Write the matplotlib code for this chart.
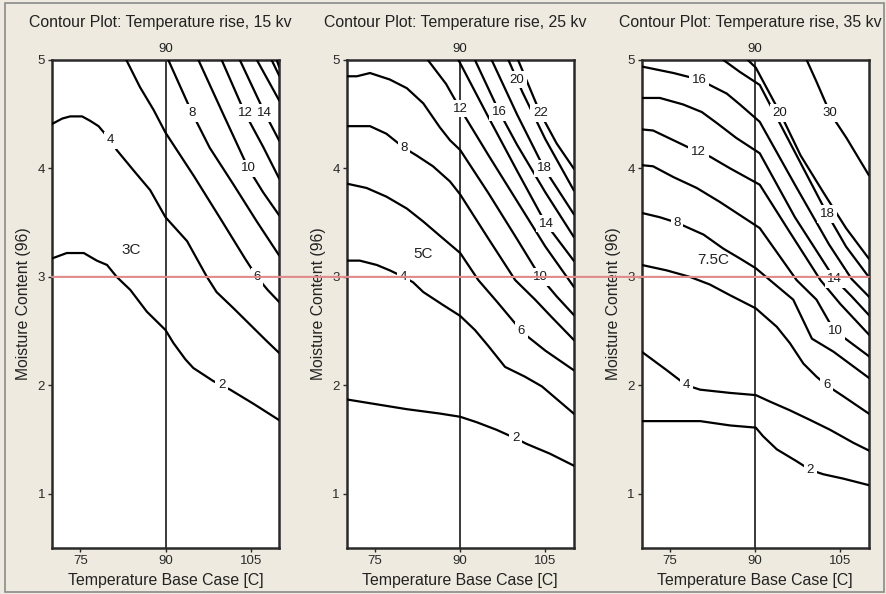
import matplotlib.pyplot as plt
import numpy as np
from matplotlib.patches import ConnectionPatch, Rectangle

plt.rcParams['font.family'] = ['Liberation Sans', 'DejaVu Sans']

# ---- data (x = base case temperature, y = moisture) ----
titles = ["Contour Plot: Temperature rise, 15 kv",
          "Contour Plot: Temperature rise, 25 kv",
          "Contour Plot: Temperature rise, 35 kv"]
tags = ["3C", "5C", "7.5C"]
tag_x = [84.0, 83.4, 82.6]
tag_y = [3.25, 3.21, 3.16]

x_ticks = [75, 90, 105]
y_ticks = [1, 2, 3, 4, 5]
ref_temp = 90
ref_moisture = 3

# 15 kv
levels_15 = [2, 4, 6, 8, 10, 12, 14, 16, 18, 20]
lines_15_x = [
    [70, 72.6, 75.6, 77.9, 79.7, 81.4, 83.8, 86.7, 90, 91.4, 93.5, 94.9, 98.4, 101.4, 105.5, 110],
    [70, 71.8, 73.2, 75.3, 76.7, 78.2, 80.3, 81.4, 84.4, 87.3, 90, 93.8, 97.3, 99, 102, 104.9, 107.8, 110],
    [83.1, 85.5, 87.9, 90, 95, 100, 104, 106.1, 108, 110],
    [90.5, 94.7, 97.8, 102, 106.1, 110],
    [95.8, 100, 104.6, 107.2, 110],
    [99.9, 104.0, 107.2, 110],
    [103.1, 107.5, 110],
    [106.1, 108, 110],
    [108.7, 110],
    [109.6, 110],
]
lines_15_y = [
    [3.17, 3.22, 3.22, 3.15, 3.11, 3.0, 2.88, 2.68, 2.51, 2.39, 2.24, 2.16, 2.04, 1.96, 1.83, 1.68],
    [4.41, 4.46, 4.48, 4.48, 4.44, 4.39, 4.26, 4.17, 3.98, 3.8, 3.55, 3.33, 3.0, 2.86, 2.71, 2.56, 2.41, 2.30],
    [5.0, 4.75, 4.54, 4.33, 3.93, 3.51, 3.17, 3.0, 2.88, 2.77],
    [5.0, 4.51, 4.19, 3.85, 3.51, 3.20],
    [5.0, 4.52, 4.0, 3.78, 3.57],
    [5.0, 4.51, 4.2, 3.91],
    [5.0, 4.51, 4.26],
    [5.0, 4.82, 4.63],
    [5.0, 4.86],
    [5.0, 4.94],
]
label_x_15 = [99.9, 80.3, 106.1, 94.7, 104.6, 104.0, 107.5, None, None, None]

# 25 kv
levels_25 = [2, 4, 6, 8, 10, 12, 14, 16, 18, 20, 22]
lines_25_x = [
    [70, 74.7, 80.6, 86.4, 90, 92.9, 96.4, 99.8, 101.7, 105.8, 110],
    [70, 72.3, 75.3, 77.6, 80, 81.7, 83.5, 87, 90, 92.6, 95, 97.9, 101.4, 104.4, 110],
    [70, 73.5, 77, 80.6, 83.5, 86.4, 90, 93.2, 96.5, 99.7, 101.4, 105, 110],
    [70, 74.1, 77, 80.1, 82.3, 85.2, 88.2, 90, 95, 99.7, 103.2, 106.1, 110],
    [70, 71.8, 74.1, 77.6, 80.6, 83.5, 86.4, 88.2, 90, 95, 100, 104.1, 107, 110],
    [84.3, 87.5, 90, 95, 100, 105, 110],
    [89.7, 95, 100, 105.1, 110],
    [92.6, 96.9, 100, 105, 110],
    [95.55, 100, 104.8, 110],
    [98.5, 101, 105, 110],
    [100.2, 104.1, 107, 110],
]
lines_25_y = [
    [1.87, 1.83, 1.78, 1.74, 1.71, 1.66, 1.59, 1.51, 1.46, 1.37, 1.26],
    [3.15, 3.15, 3.11, 3.06, 3.0, 2.95, 2.86, 2.74, 2.64, 2.51, 2.36, 2.17, 2.08, 1.99, 1.74],
    [3.86, 3.82, 3.74, 3.63, 3.51, 3.38, 3.22, 2.97, 2.77, 2.57, 2.47, 2.32, 2.14],
    [4.39, 4.39, 4.32, 4.19, 4.12, 4.02, 3.88, 3.76, 3.35, 2.97, 2.79, 2.63, 2.42],
    [4.85, 4.85, 4.88, 4.82, 4.74, 4.6, 4.38, 4.26, 4.17, 3.77, 3.35, 3.0, 2.82, 2.65],
    [5.0, 4.78, 4.55, 4.12, 3.70, 3.28, 2.91],
    [5.0, 4.47, 3.98, 3.49, 3.15],
    [5.0, 4.52, 4.22, 3.78, 3.37],
    [5.0, 4.5, 4.0, 3.58],
    [5.0, 4.7, 4.27, 3.8],
    [5.0, 4.51, 4.23, 4.0],
]
label_x_25 = [99.8, 80.0, 100.8, 80.1, 104.1, 90.0, 105.1, 96.9, 104.8, 100.0, 104.1]

# 35 kv
levels_35 = [2, 4, 6, 8, 10, 12, 14, 16, 18, 20, 30]
lines_35_x = [
    [70, 80.3, 85.6, 90.1, 91.4, 93.8, 97.3, 99.7, 102, 105.5, 110],
    [70, 74.4, 77.9, 80.3, 85.6, 90.1, 92.6, 96.1, 99.7, 103.2, 107.3, 110],
    [70, 74.4, 78.5, 82, 85.6, 90.1, 93.8, 96.1, 98.5, 100.8, 102.6, 105.5, 110],
    [70, 73.2, 76.2, 77.9, 80.9, 84.4, 87.3, 90.1, 92.6, 96.7, 100, 103.8, 110],
    [70, 72, 75.6, 79.7, 83.8, 87.3, 90.8, 97.3, 100.8, 103.2, 104.1, 110],
    [70, 72, 75.6, 80, 82, 85.6, 90.8, 96, 101.5, 105, 110],
    [70, 73.2, 77.3, 80.6, 83.2, 86.7, 90.8, 97, 104, 107, 110],
    [70, 75.6, 80.1, 85, 87.3, 90.8, 97, 103, 107, 110],
    [84.4, 87.3, 90.8, 96, 100, 102.7, 106, 110],
    [88.7, 90.1, 94.4, 98, 102, 106, 110],
    [99.07, 100.8, 103.2, 106.1, 110],
]
lines_35_y = [
    [1.67, 1.67, 1.63, 1.61, 1.53, 1.41, 1.30, 1.22, 1.18, 1.14, 1.08],
    [2.31, 2.14, 2.0, 1.96, 1.93, 1.91, 1.85, 1.77, 1.68, 1.59, 1.47, 1.40],
    [3.11, 3.06, 3.0, 2.93, 2.83, 2.71, 2.54, 2.39, 2.20, 2.08, 2.0, 1.90, 1.74],
    [3.59, 3.55, 3.50, 3.46, 3.39, 3.26, 3.17, 3.08, 2.97, 2.79, 2.43, 2.31, 2.07],
    [4.03, 4.02, 3.92, 3.82, 3.69, 3.57, 3.45, 2.97, 2.79, 2.57, 2.50, 2.27],
    [4.36, 4.35, 4.26, 4.15, 4.11, 4.0, 3.85, 3.42, 2.97, 2.75, 2.47],
    [4.65, 4.65, 4.59, 4.52, 4.42, 4.28, 4.14, 3.55, 2.98, 2.82, 2.65],
    [4.94, 4.88, 4.82, 4.69, 4.59, 4.43, 3.85, 3.3, 2.98, 2.82],
    [5.0, 4.89, 4.77, 4.25, 3.85, 3.58, 3.28, 3.0],
    [5.0, 4.93, 4.51, 4.12, 3.78, 3.45, 3.17],
    [5.0, 4.8, 4.51, 4.28, 3.94],
]
label_x_35 = [99.7, 77.9, 102.6, 76.2, 104.1, 80.0, 104.0, 80.1, 102.7, 94.4, 103.2]

panels = [
    (levels_15, lines_15_x, lines_15_y, label_x_15),
    (levels_25, lines_25_x, lines_25_y, label_x_25),
    (levels_35, lines_35_x, lines_35_y, label_x_35),
]

bg = '#eeeae0'
dark = '#2a2a2a'

fig = plt.figure(figsize=(8.86, 5.94), dpi=100, facecolor=bg)
W, H = 886, 594
lefts = [52, 346.7, 641.7]
axes = []
for i, (levels, xs_all, ys_all, label_xs) in enumerate(panels):
    ax = fig.add_axes([lefts[i] / W, (H - 548) / H, 227 / W, 488 / H])
    ax.set_facecolor('white')
    ax.set_xlim(70, 110)
    ax.set_ylim(0.5, 5)

    for lev, xs, ys, lx in zip(levels, xs_all, ys_all, label_xs):
        ax.plot(xs, ys, color='black', lw=1.6, zorder=3)
        if lx is not None:
            ly = np.interp(lx, xs, ys)
            ax.text(lx, ly, str(lev), fontsize=9.5, ha='center', va='center', zorder=4,
                    color='#1a1a1a',
                    bbox=dict(boxstyle='square,pad=0.2', fc='white', ec='none'))

    ax.axvline(ref_temp, color=dark, lw=1.3, zorder=2.5)
    ax.text(ref_temp, 1 + 5 / 488, str(ref_temp), transform=ax.get_xaxis_transform(),
            ha='center', va='bottom', fontsize=9.5, color='#222222')
    ax.text(tag_x[i], tag_y[i], tags[i], fontsize=11, ha='center', va='center',
            color='#222222', zorder=4)

    ax.set_xticks(x_ticks)
    ax.set_yticks(y_ticks)
    ax.tick_params(direction='out', length=3, width=1, colors=dark, labelsize=9.5, pad=2)
    for s in ax.spines.values():
        s.set_linewidth(1.8)
        s.set_color(dark)

    ax.text(0.478, 1 + 38 / 488, titles[i], transform=ax.transAxes,
            ha='center', va='center', fontsize=11.4, color='#222222')
    ax.text(0.5, -32 / 488, "Temperature Base Case [C]", transform=ax.transAxes,
            ha='center', va='center', fontsize=11.4, color='#222222')
    ax.text(-28 / 227, 0.5, "Moisture Content (96)", transform=ax.transAxes, rotation=90,
            ha='center', va='center', fontsize=11.3, color='#222222')
    axes.append(ax)

# red reference line running through all three panels
con = ConnectionPatch(xyA=(70, ref_moisture), coordsA=axes[0].transData,
                      xyB=(110, ref_moisture), coordsB=axes[2].transData,
                      color='#e08a8a', lw=1.5, zorder=6)
fig.add_artist(con)

# thin frame around the whole picture
fig.add_artist(Rectangle((5 / W, 2 / H), 879 / W, 589 / H, transform=fig.transFigure,
                         fill=False, ec='#8a8a8a', lw=1.2))

fig.savefig('out.png', dpi=100, facecolor=bg)
